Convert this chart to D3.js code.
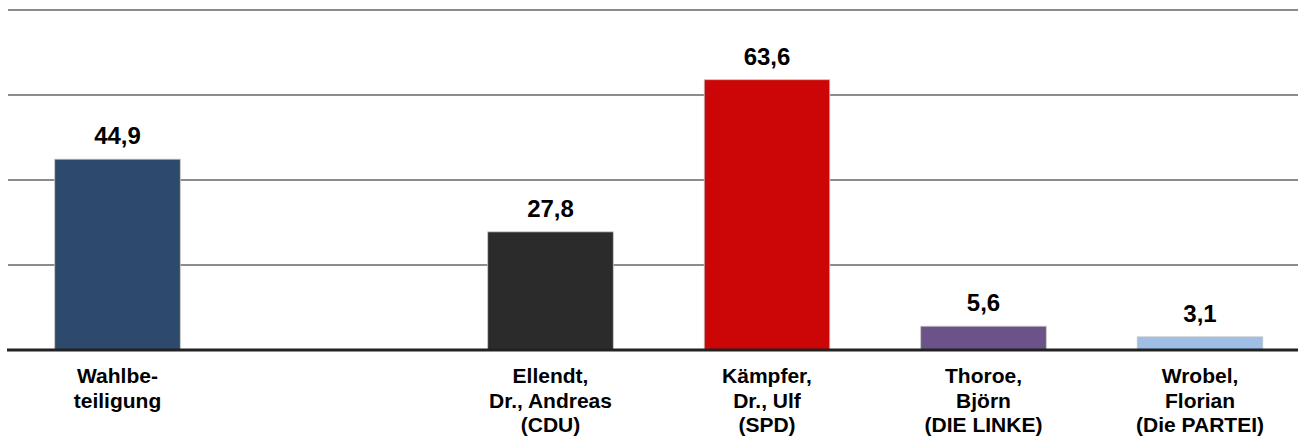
<!DOCTYPE html>
<html><head><meta charset="utf-8">
<script src="https://cdn.jsdelivr.net/npm/d3@7"></script>
<style>body{margin:0;background:#fff}svg{display:block}</style>
</head><body>
<svg id="c" width="1298" height="436"></svg>
<script>
const categories = ["Wahlbeteiligung", "", "Ellendt", "Kämpfer", "Thoroe", "Wrobel"];
const labelLines = [["Wahlbe-","teiligung"], [], ["Ellendt,","Dr., Andreas","(CDU)"], ["Kämpfer,","Dr., Ulf","(SPD)"], ["Thoroe,","Björn","(DIE LINKE)"], ["Wrobel,","Florian","(Die PARTEI)"]];
const values = [44.9, null, 27.8, 63.6, 5.6, 3.1];
const colors = ["#2d4a6c", null, "#2b2b2b", "#cc0606", "#6b5389", "#9ebee3"];
const gridTicks = [20, 40, 60, 80];

const svg = d3.select("#c");
const x = d3.scaleBand().domain(d3.range(categories.length)).range([9.25, 1308.25]).paddingInner(0.42).paddingOuter(0.21);
const y = d3.scaleLinear().domain([0, 80]).range([350, 10]);

svg.append("g").selectAll("line").data(gridTicks).join("line")
  .attr("x1", 8).attr("x2", 1298)
  .attr("y1", d => y(d)).attr("y2", d => y(d))
  .attr("stroke", "#8c8c8c").attr("stroke-width", 2);

const data = values.map((v, i) => ({i, v, c: colors[i]})).filter(d => d.v !== null);

svg.append("g").selectAll("rect").data(data).join("rect")
  .attr("x", d => x(d.i)).attr("width", x.bandwidth())
  .attr("y", d => y(d.v)).attr("height", d => y(0) - y(d.v))
  .attr("fill", d => d.c).attr("stroke", "#c8c8c8").attr("stroke-width", 0.8);

svg.append("line").attr("x1", 7).attr("x2", 1298).attr("y1", y(0)).attr("y2", y(0))
  .attr("stroke", "#222").attr("stroke-width", 3);

svg.append("g").selectAll("text").data(data).join("text")
  .attr("x", d => x(d.i) + x.bandwidth()/2).attr("y", d => y(d.v) - 15)
  .attr("text-anchor", "middle")
  .attr("font-family", "Liberation Sans, Arial, sans-serif").attr("font-weight", "bold").attr("font-size", 24)
  .attr("fill", "#000")
  .text(d => d3.format(".1f")(d.v).replace(".", ","));

const lg = svg.append("g");
labelLines.forEach((lines, i) => {
  lines.forEach((t, k) => {
    lg.append("text").attr("x", x(i) + x.bandwidth()/2).attr("y", 383 + k*24.5)
      .attr("text-anchor", "middle")
      .attr("font-family", "Liberation Sans, Arial, sans-serif").attr("font-weight", "bold").attr("font-size", 21)
      .attr("fill", "#000").text(t);
  });
});
</script>
</body></html>
